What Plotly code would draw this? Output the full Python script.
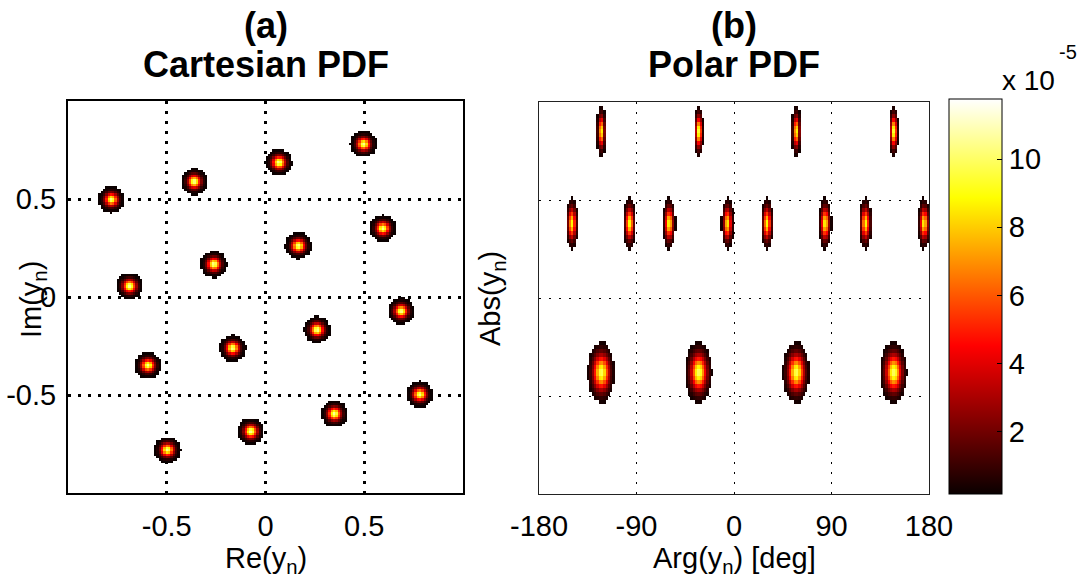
import numpy as np
import plotly.graph_objects as go

# ---- constellation: ring amplitudes and symbol phases (deg) ----
RING_ABS = [0.31, 0.69, 0.925]
RING_PHASES = [
    [-122.5, -32.5, 57.5, 147.5],
    [-149.6, -96.2, -59.7, -6.0, 30.5, 84.3, 121.5, 175.4],
    [-122.5, -32.5, 57.5, 147.5],
]

# visible half-widths of each cluster
CART_HALF_WIDTH = 0.068
POLAR_ABS_HALF = [0.078, 0.066, 0.065]
POLAR_ARG_HALF_DEG = [12.5, 6.0, 4.5]

# peak density of each cluster (units of 1e-5)
CART_PEAK = 10.6
POLAR_PEAK = [10.0, 9.0, 9.5]

# smallest density drawn in each panel (lower bins stay blank)
CART_VISIBLE_MIN = 0.065
POLAR_VISIBLE_MIN = 0.3

# colour scale limits and ticks (units of 1e-5)
CBAR_RANGE = [0.18, 11.76]
CBAR_TICKS = [2, 4, 6, 8, 10]

CART_TICKS = [-1, -0.5, 0, 0.5, 1]
CART_TICKTEXT = ["", "-0.5", "0", "0.5", ""]
ARG_TICKS = [-180, -90, 0, 90, 180]
ARG_TICKTEXT = ["-180", "-90", "0", "90", "180"]
ABS_TICKS = [0, 0.25, 0.5, 0.75, 1]

# histogram bins
CART_BINS = 170
ARG_BINS = 170
ABS_BINS = 100


def edge_sigmas(peak, vmin):
    # number of standard deviations at which a cluster drops to the lowest drawn level
    return np.sqrt(2 * np.log(peak / vmin))


# ---- Cartesian PDF grid ----
cart_edges = np.linspace(-1, 1, CART_BINS + 1)
cart_c = 0.5 * (cart_edges[:-1] + cart_edges[1:])
X, Y = np.meshgrid(cart_c, cart_c)
sig = CART_HALF_WIDTH / edge_sigmas(CART_PEAK, CART_VISIBLE_MIN)
z_cart = np.zeros_like(X)
for r, phases in zip(RING_ABS, RING_PHASES):
    for ph in phases:
        cx, cy = r * np.cos(np.radians(ph)), r * np.sin(np.radians(ph))
        z_cart += CART_PEAK * np.exp(-((X - cx) ** 2 + (Y - cy) ** 2) / (2 * sig ** 2))
z_cart = np.where(z_cart >= CART_VISIBLE_MIN, z_cart, np.nan)

# ---- Polar PDF grid ----
arg_edges = np.linspace(-180, 180, ARG_BINS + 1)
arg_c = 0.5 * (arg_edges[:-1] + arg_edges[1:])
abs_edges = np.linspace(0, 1, ABS_BINS + 1)
abs_c = 0.5 * (abs_edges[:-1] + abs_edges[1:])
A, R = np.meshgrid(arg_c, abs_c)
z_pol = np.zeros_like(A)
for k, (r, phases) in enumerate(zip(RING_ABS, RING_PHASES)):
    n_sig = edge_sigmas(POLAR_PEAK[k], POLAR_VISIBLE_MIN)
    s_r = POLAR_ABS_HALF[k] / n_sig
    s_a = POLAR_ARG_HALF_DEG[k] / n_sig
    for ph in phases:
        z_pol += POLAR_PEAK[k] * np.exp(-(R - r) ** 2 / (2 * s_r ** 2) - (A - ph) ** 2 / (2 * s_a ** 2))
z_pol = np.where(z_pol >= POLAR_VISIBLE_MIN, z_pol, np.nan)

# ---- figure ----
W, H = 1083, 582
FONT = "Liberation Sans, Arial, sans-serif"


def px(x):
    return x / W


def py(y):
    return 1 - y / H


hot = [
    [0.0, "rgb(10,0,0)"],
    [0.375, "rgb(255,0,0)"],
    [0.75, "rgb(255,255,0)"],
    [1.0, "rgb(255,255,255)"],
]

fig = go.Figure()
fig.add_trace(go.Heatmap(x=cart_c, y=cart_c, z=z_cart, coloraxis="coloraxis",
                         xaxis="x", yaxis="y", hoverongaps=False))
fig.add_trace(go.Heatmap(x=arg_c, y=abs_c, z=z_pol, coloraxis="coloraxis",
                         xaxis="x2", yaxis="y2", hoverongaps=False))

tickfont = dict(family=FONT, size=29, color="black")

left_ax = dict(range=[-1, 1], tickmode="array", tickvals=CART_TICKS, ticktext=CART_TICKTEXT,
               showgrid=True, gridcolor="black", gridwidth=2.5, griddash="2.5px,7.5px",
               showline=True, linewidth=2, linecolor="black", mirror=True,
               ticks="", zeroline=False, tickfont=tickfont, automargin=False)
right_ax = dict(showgrid=True, gridcolor="black", gridwidth=1, griddash="2px,8px",
                showline=True, linewidth=1, linecolor="#222", mirror=True,
                ticks="", zeroline=False, tickfont=tickfont, automargin=False)

fig.update_layout(
    width=W, height=H,
    margin=dict(l=0, r=0, t=0, b=0, autoexpand=False),
    paper_bgcolor="white", plot_bgcolor="white",
    font=dict(family=FONT, color="black"),
    showlegend=False,
    xaxis=dict(domain=[px(68), px(463)], anchor="y", ticklabelstandoff=6, **left_ax),
    yaxis=dict(domain=[py(493), py(101)], anchor="x", ticklabelstandoff=4, **left_ax),
    xaxis2=dict(domain=[px(539), px(929)], anchor="y2", range=[-180, 180],
                tickmode="array", tickvals=ARG_TICKS, ticktext=ARG_TICKTEXT,
                ticklabelstandoff=6, **right_ax),
    yaxis2=dict(domain=[py(494), py(102)], anchor="x2", range=[0, 1],
                tickmode="array", tickvals=ABS_TICKS, showticklabels=False, **right_ax),
    coloraxis=dict(
        colorscale=hot, cmin=CBAR_RANGE[0], cmax=CBAR_RANGE[1],
        colorbar=dict(
            x=px(949), xanchor="left", xpad=0, ypad=0,
            y=py((99 + 494) / 2), yanchor="middle",
            len=(494 - 99) / H, lenmode="fraction",
            thickness=53, thicknessmode="pixels",
            outlinewidth=1, outlinecolor="black",
            tickmode="array", tickvals=CBAR_TICKS, ticktext=[str(t) for t in CBAR_TICKS],
            ticks="inside", ticklen=5, tickcolor="black",
            tickfont=tickfont,
        ),
    ),
)

ann = []


def label(text, x, y, size=29, bold=False, angle=0, xanchor="center"):
    if bold:
        text = "<b>" + text + "</b>"
    ann.append(dict(text=text, x=px(x), y=py(y), xref="paper", yref="paper",
                    xanchor=xanchor, yanchor="middle", showarrow=False, textangle=angle,
                    font=dict(family=FONT, size=size, color="black")))


label("(a)", 265.5, 26, size=36, bold=True)
label("Cartesian PDF", 265.5, 64, size=36, bold=True)
label("(b)", 734, 26, size=36, bold=True)
label("Polar PDF", 734, 64, size=36, bold=True)
label("Re(y<sub>n</sub>)", 265.5, 560)
label("Arg(y<sub>n</sub>) [deg]", 734, 560)
label("Im(y<sub>n</sub>)", 33, 300, angle=-90)
label("Abs(y<sub>n</sub>)", 492, 299, angle=-90)
label("x 10", 1000, 81, size=28, xanchor="left")
label("-5", 1057, 52, size=20, xanchor="left")

fig.update_layout(annotations=ann)
fig.write_html("out.html")
